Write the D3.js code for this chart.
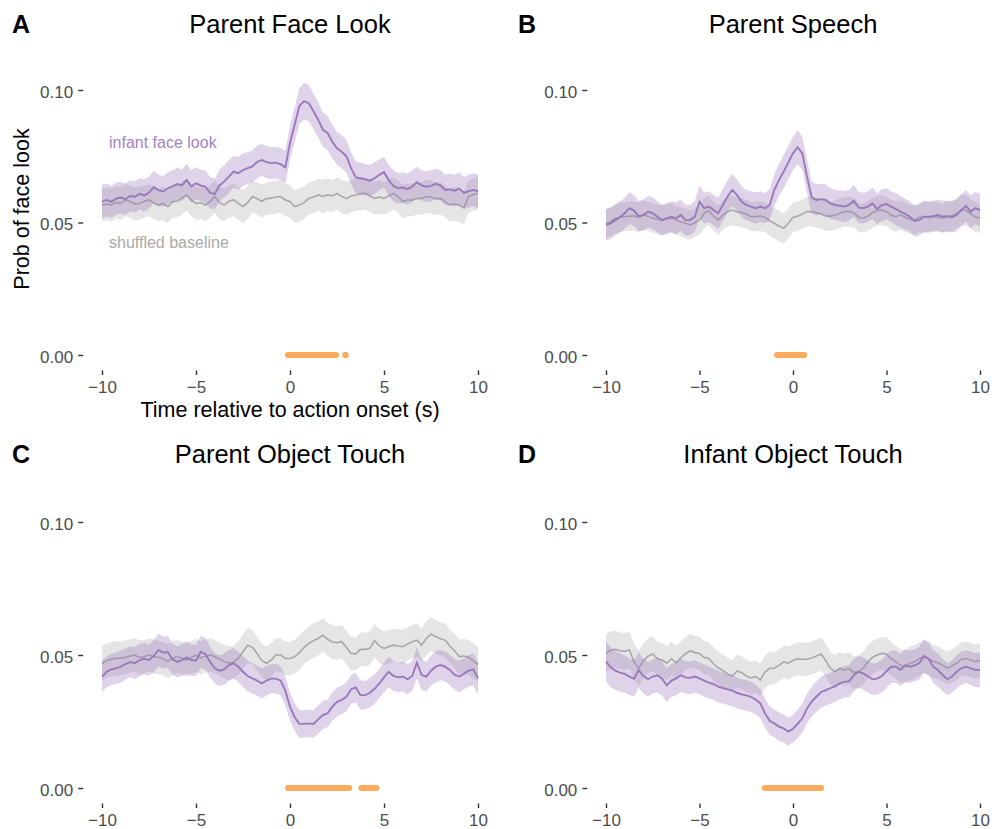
<!DOCTYPE html>
<html>
<head>
  <meta charset="utf-8">
  <style>
    body { margin: 0; background: #fff; }
    svg text { font-family: "Liberation Sans", Arial, Helvetica, sans-serif; }
    .axis path.domain { display: none; }
    .axis line { stroke: #333; stroke-width: 1.4px; }
    .axis text { fill: #4d4d4d; font-size: 17px; }
  </style>
</head>
<body>
<script src="https://cdn.jsdelivr.net/npm/d3@7"></script>
<script>
// time grid (s relative to onset), one value every 0.25 s
var times = d3.range(-40, 41).map(function (k) { return k / 4; });

var panelLetters = ["A", "B", "C", "D"];
var panelTitles = ["Parent Face Look", "Parent Speech", "Parent Object Touch", "Infant Object Touch"];
var xTicks = [-10, -5, 0, 5, 10];
var yTicks = [0, 0.05, 0.10];

// A - Parent Face Look
var faceA = [0.0579,0.0585,0.0578,0.0590,0.0594,0.0588,0.0600,0.0597,0.0608,0.0602,
  0.0613,0.0633,0.0622,0.0617,0.0629,0.0636,0.0645,0.0640,0.0660,0.0636,
  0.0648,0.0640,0.0635,0.0612,0.0608,0.0640,0.0655,0.0673,0.0692,0.0686,
  0.0698,0.0705,0.0712,0.0728,0.0736,0.0728,0.0724,0.0726,0.0720,0.0708,
  0.0800,0.0870,0.0940,0.0958,0.0950,0.0920,0.0888,0.0850,0.0838,0.0805,
  0.0780,0.0767,0.0750,0.0705,0.0670,0.0667,0.0663,0.0658,0.0667,0.0680,
  0.0690,0.0660,0.0638,0.0629,0.0632,0.0626,0.0636,0.0652,0.0640,0.0635,
  0.0638,0.0646,0.0640,0.0623,0.0625,0.0620,0.0628,0.0612,0.0618,0.0623,0.0618];
var faceSeA = [0.0063,0.0062,0.0060,0.0061,0.0059,0.0060,0.0058,0.0060,0.0059,0.0061,
  0.0060,0.0062,0.0059,0.0058,0.0060,0.0061,0.0062,0.0060,0.0063,0.0061,
  0.0060,0.0059,0.0061,0.0060,0.0058,0.0060,0.0061,0.0062,0.0060,0.0061,
  0.0062,0.0060,0.0061,0.0062,0.0060,0.0061,0.0060,0.0059,0.0061,0.0062,
  0.0064,0.0066,0.0068,0.0069,0.0068,0.0067,0.0066,0.0065,0.0064,0.0063,
  0.0062,0.0062,0.0061,0.0060,0.0060,0.0059,0.0058,0.0059,0.0060,0.0058,
  0.0057,0.0058,0.0059,0.0057,0.0058,0.0059,0.0060,0.0058,0.0057,0.0058,
  0.0059,0.0058,0.0057,0.0058,0.0059,0.0060,0.0061,0.0060,0.0062,0.0063,0.0064];
var baseA = [0.0566,0.0570,0.0566,0.0575,0.0572,0.0585,0.0579,0.0570,0.0572,0.0580,
  0.0585,0.0575,0.0566,0.0572,0.0560,0.0578,0.0580,0.0592,0.0604,0.0585,
  0.0572,0.0575,0.0566,0.0580,0.0598,0.0575,0.0566,0.0580,0.0585,0.0572,
  0.0560,0.0575,0.0598,0.0590,0.0580,0.0590,0.0592,0.0596,0.0598,0.0585,
  0.0579,0.0560,0.0566,0.0575,0.0591,0.0596,0.0604,0.0598,0.0604,0.0600,
  0.0610,0.0598,0.0591,0.0600,0.0604,0.0608,0.0610,0.0600,0.0591,0.0596,
  0.0591,0.0600,0.0610,0.0598,0.0579,0.0585,0.0585,0.0590,0.0591,0.0598,
  0.0596,0.0590,0.0591,0.0580,0.0566,0.0570,0.0566,0.0555,0.0598,0.0605,0.0610];
var baseSeA = [0.0062,0.0061,0.0063,0.0060,0.0062,0.0061,0.0060,0.0062,0.0063,0.0061,
  0.0060,0.0062,0.0061,0.0063,0.0062,0.0060,0.0061,0.0062,0.0060,0.0061,
  0.0063,0.0062,0.0061,0.0060,0.0062,0.0063,0.0061,0.0060,0.0062,0.0061,
  0.0063,0.0062,0.0060,0.0061,0.0062,0.0061,0.0063,0.0062,0.0061,0.0060,
  0.0062,0.0063,0.0062,0.0061,0.0060,0.0062,0.0061,0.0063,0.0062,0.0060,
  0.0061,0.0062,0.0063,0.0061,0.0060,0.0062,0.0061,0.0060,0.0062,0.0063,
  0.0061,0.0062,0.0060,0.0061,0.0063,0.0062,0.0061,0.0060,0.0062,0.0061,
  0.0063,0.0062,0.0061,0.0060,0.0062,0.0063,0.0064,0.0062,0.0061,0.0060,0.0062];
var sigA = [[-0.1, 2.45], [2.95, 2.95]];

// B - Parent Speech
var faceB = [0.0491,0.0497,0.0509,0.0520,0.0535,0.0554,0.0545,0.0524,0.0528,0.0541,
  0.0535,0.0522,0.0509,0.0516,0.0522,0.0516,0.0528,0.0509,0.0509,0.0522,
  0.0579,0.0554,0.0560,0.0547,0.0535,0.0566,0.0598,0.0623,0.0604,0.0579,
  0.0566,0.0560,0.0554,0.0560,0.0554,0.0566,0.0623,0.0660,0.0692,0.0727,
  0.0761,0.0784,0.0761,0.0673,0.0595,0.0585,0.0588,0.0585,0.0572,0.0566,
  0.0563,0.0560,0.0566,0.0582,0.0557,0.0554,0.0560,0.0572,0.0551,0.0566,
  0.0570,0.0560,0.0551,0.0541,0.0532,0.0522,0.0506,0.0509,0.0522,0.0520,
  0.0524,0.0528,0.0522,0.0524,0.0520,0.0528,0.0547,0.0563,0.0541,0.0554,0.0547];
var faceSeB = [0.0058,0.0060,0.0057,0.0059,0.0058,0.0060,0.0059,0.0057,0.0058,0.0060,
  0.0059,0.0058,0.0057,0.0059,0.0058,0.0060,0.0059,0.0058,0.0057,0.0059,
  0.0060,0.0059,0.0058,0.0057,0.0059,0.0060,0.0061,0.0060,0.0059,0.0058,
  0.0057,0.0058,0.0059,0.0058,0.0057,0.0058,0.0060,0.0061,0.0062,0.0063,
  0.0063,0.0064,0.0063,0.0062,0.0060,0.0059,0.0058,0.0059,0.0058,0.0057,
  0.0058,0.0059,0.0058,0.0060,0.0059,0.0058,0.0057,0.0059,0.0058,0.0060,
  0.0059,0.0058,0.0060,0.0059,0.0058,0.0057,0.0059,0.0058,0.0060,0.0059,
  0.0058,0.0059,0.0060,0.0058,0.0059,0.0060,0.0061,0.0060,0.0062,0.0061,0.0062];
var baseB = [0.0497,0.0503,0.0516,0.0520,0.0522,0.0524,0.0524,0.0520,0.0528,0.0524,
  0.0516,0.0512,0.0509,0.0514,0.0516,0.0509,0.0503,0.0497,0.0491,0.0499,
  0.0509,0.0535,0.0545,0.0524,0.0509,0.0528,0.0541,0.0547,0.0541,0.0537,
  0.0532,0.0522,0.0522,0.0524,0.0520,0.0506,0.0497,0.0487,0.0478,0.0497,
  0.0520,0.0524,0.0532,0.0541,0.0541,0.0537,0.0532,0.0524,0.0524,0.0528,
  0.0535,0.0541,0.0541,0.0537,0.0520,0.0516,0.0524,0.0537,0.0545,0.0547,
  0.0541,0.0528,0.0522,0.0528,0.0520,0.0512,0.0509,0.0520,0.0522,0.0522,
  0.0522,0.0520,0.0516,0.0522,0.0526,0.0535,0.0547,0.0547,0.0532,0.0522,0.0516];
var baseSeB = [0.0056,0.0055,0.0057,0.0056,0.0054,0.0056,0.0055,0.0057,0.0056,0.0055,
  0.0054,0.0056,0.0057,0.0055,0.0056,0.0054,0.0055,0.0057,0.0056,0.0055,
  0.0056,0.0057,0.0055,0.0054,0.0056,0.0055,0.0057,0.0056,0.0055,0.0056,
  0.0054,0.0055,0.0056,0.0057,0.0055,0.0056,0.0057,0.0058,0.0057,0.0056,
  0.0055,0.0056,0.0054,0.0055,0.0056,0.0057,0.0055,0.0056,0.0054,0.0055,
  0.0056,0.0055,0.0057,0.0056,0.0055,0.0054,0.0056,0.0057,0.0055,0.0056,
  0.0055,0.0057,0.0056,0.0055,0.0056,0.0054,0.0055,0.0056,0.0057,0.0055,
  0.0056,0.0055,0.0054,0.0056,0.0057,0.0056,0.0058,0.0057,0.0056,0.0057,0.0056];
var sigB = [[-0.85, 0.6]];

// C - Parent Object Touch
var faceC = [0.0419,0.0437,0.0446,0.0450,0.0456,0.0466,0.0474,0.0469,0.0481,0.0486,
  0.0481,0.0496,0.0519,0.0509,0.0511,0.0484,0.0474,0.0481,0.0491,0.0481,
  0.0479,0.0512,0.0504,0.0474,0.0450,0.0441,0.0446,0.0462,0.0469,0.0456,
  0.0437,0.0421,0.0412,0.0404,0.0393,0.0404,0.0411,0.0411,0.0404,0.0366,
  0.0306,0.0266,0.0241,0.0241,0.0243,0.0241,0.0258,0.0274,0.0281,0.0306,
  0.0324,0.0331,0.0343,0.0371,0.0378,0.0349,0.0349,0.0358,0.0373,0.0393,
  0.0416,0.0437,0.0421,0.0416,0.0419,0.0409,0.0421,0.0471,0.0425,0.0419,
  0.0441,0.0456,0.0462,0.0456,0.0444,0.0426,0.0419,0.0429,0.0441,0.0446,0.0412];
var faceSeC = [0.0058,0.0057,0.0059,0.0058,0.0060,0.0059,0.0058,0.0060,0.0061,0.0059,
  0.0058,0.0060,0.0062,0.0061,0.0060,0.0059,0.0058,0.0060,0.0061,0.0059,
  0.0058,0.0060,0.0059,0.0058,0.0057,0.0058,0.0059,0.0058,0.0057,0.0056,
  0.0057,0.0058,0.0057,0.0056,0.0057,0.0056,0.0055,0.0056,0.0055,0.0054,
  0.0053,0.0052,0.0052,0.0051,0.0052,0.0051,0.0052,0.0053,0.0052,0.0053,
  0.0054,0.0053,0.0054,0.0055,0.0056,0.0055,0.0054,0.0055,0.0056,0.0055,
  0.0056,0.0057,0.0056,0.0055,0.0056,0.0057,0.0056,0.0058,0.0057,0.0056,
  0.0057,0.0058,0.0057,0.0056,0.0057,0.0058,0.0059,0.0058,0.0059,0.0060,0.0061];
var baseC = [0.0469,0.0479,0.0484,0.0488,0.0488,0.0491,0.0496,0.0500,0.0491,0.0494,
  0.0500,0.0494,0.0491,0.0486,0.0476,0.0488,0.0494,0.0488,0.0481,0.0491,
  0.0499,0.0489,0.0496,0.0500,0.0494,0.0484,0.0476,0.0469,0.0474,0.0488,
  0.0512,0.0537,0.0529,0.0506,0.0479,0.0469,0.0481,0.0500,0.0500,0.0488,
  0.0486,0.0494,0.0509,0.0529,0.0544,0.0554,0.0562,0.0574,0.0559,0.0549,
  0.0546,0.0550,0.0529,0.0506,0.0504,0.0521,0.0521,0.0525,0.0554,0.0534,
  0.0525,0.0531,0.0537,0.0534,0.0531,0.0541,0.0550,0.0556,0.0537,0.0562,
  0.0579,0.0569,0.0561,0.0556,0.0534,0.0516,0.0494,0.0496,0.0491,0.0479,0.0464];
var baseSeC = [0.0066,0.0065,0.0064,0.0065,0.0063,0.0064,0.0062,0.0063,0.0064,0.0062,
  0.0063,0.0064,0.0063,0.0062,0.0064,0.0063,0.0062,0.0061,0.0063,0.0062,
  0.0064,0.0063,0.0062,0.0064,0.0063,0.0062,0.0063,0.0064,0.0062,0.0063,
  0.0064,0.0065,0.0064,0.0063,0.0062,0.0063,0.0064,0.0062,0.0063,0.0064,
  0.0063,0.0062,0.0064,0.0063,0.0064,0.0065,0.0064,0.0063,0.0062,0.0064,
  0.0063,0.0062,0.0063,0.0064,0.0062,0.0063,0.0064,0.0063,0.0062,0.0064,
  0.0063,0.0064,0.0062,0.0063,0.0064,0.0063,0.0062,0.0064,0.0063,0.0065,
  0.0064,0.0063,0.0062,0.0064,0.0063,0.0064,0.0065,0.0064,0.0065,0.0066,0.0065];
var sigC = [[-0.1, 3.15], [3.8, 4.6]];

// D - Infant Object Touch
var faceD = [0.0475,0.0454,0.0441,0.0434,0.0429,0.0419,0.0411,0.0444,0.0421,0.0409,
  0.0419,0.0424,0.0411,0.0386,0.0404,0.0412,0.0424,0.0416,0.0414,0.0419,
  0.0412,0.0404,0.0396,0.0391,0.0381,0.0376,0.0371,0.0366,0.0358,0.0352,
  0.0348,0.0343,0.0333,0.0318,0.0281,0.0253,0.0243,0.0231,0.0224,0.0212,
  0.0223,0.0241,0.0262,0.0299,0.0325,0.0343,0.0361,0.0368,0.0375,0.0383,
  0.0393,0.0400,0.0401,0.0424,0.0437,0.0431,0.0420,0.0409,0.0411,0.0421,
  0.0439,0.0456,0.0456,0.0444,0.0461,0.0456,0.0461,0.0469,0.0496,0.0486,
  0.0456,0.0444,0.0425,0.0409,0.0419,0.0437,0.0450,0.0456,0.0450,0.0444,0.0444];
var faceSeD = [0.0076,0.0075,0.0073,0.0072,0.0070,0.0069,0.0068,0.0067,0.0066,0.0065,
  0.0064,0.0065,0.0064,0.0063,0.0062,0.0063,0.0062,0.0061,0.0062,0.0061,
  0.0060,0.0061,0.0060,0.0059,0.0060,0.0059,0.0058,0.0059,0.0058,0.0057,
  0.0058,0.0057,0.0056,0.0055,0.0054,0.0053,0.0052,0.0053,0.0052,0.0053,
  0.0052,0.0053,0.0054,0.0055,0.0056,0.0057,0.0058,0.0059,0.0058,0.0059,
  0.0060,0.0059,0.0060,0.0061,0.0060,0.0061,0.0060,0.0059,0.0060,0.0061,
  0.0062,0.0061,0.0060,0.0061,0.0062,0.0061,0.0060,0.0062,0.0063,0.0062,
  0.0061,0.0062,0.0061,0.0060,0.0061,0.0062,0.0063,0.0062,0.0063,0.0064,0.0064];
var baseD = [0.0506,0.0519,0.0521,0.0516,0.0513,0.0519,0.0475,0.0450,0.0479,0.0496,
  0.0504,0.0486,0.0481,0.0469,0.0486,0.0471,0.0489,0.0504,0.0516,0.0509,
  0.0506,0.0491,0.0487,0.0466,0.0452,0.0441,0.0429,0.0421,0.0439,0.0434,
  0.0421,0.0414,0.0419,0.0406,0.0436,0.0450,0.0450,0.0461,0.0474,0.0469,
  0.0479,0.0486,0.0484,0.0484,0.0489,0.0496,0.0504,0.0479,0.0450,0.0437,
  0.0450,0.0444,0.0449,0.0434,0.0437,0.0450,0.0474,0.0491,0.0500,0.0506,
  0.0504,0.0486,0.0474,0.0461,0.0456,0.0469,0.0475,0.0486,0.0494,0.0486,
  0.0476,0.0471,0.0461,0.0451,0.0459,0.0469,0.0484,0.0487,0.0481,0.0475,0.0481];
var baseSeD = [0.0072,0.0071,0.0070,0.0069,0.0070,0.0068,0.0067,0.0066,0.0065,0.0066,
  0.0065,0.0064,0.0065,0.0064,0.0063,0.0064,0.0063,0.0062,0.0063,0.0062,
  0.0063,0.0062,0.0061,0.0062,0.0061,0.0062,0.0061,0.0060,0.0061,0.0062,
  0.0061,0.0060,0.0061,0.0062,0.0061,0.0062,0.0061,0.0060,0.0061,0.0062,
  0.0061,0.0062,0.0063,0.0062,0.0061,0.0062,0.0063,0.0062,0.0061,0.0062,
  0.0061,0.0060,0.0061,0.0062,0.0061,0.0062,0.0063,0.0062,0.0061,0.0062,
  0.0063,0.0062,0.0061,0.0062,0.0061,0.0062,0.0063,0.0062,0.0061,0.0062,
  0.0063,0.0062,0.0061,0.0062,0.0063,0.0064,0.0063,0.0064,0.0065,0.0064,0.0065];
var sigD = [[-1.5, 1.5]];

var panels = [
  { face: faceA, faceSe: faceSeA, base: baseA, baseSe: baseSeA, sig: sigA },
  { face: faceB, faceSe: faceSeB, base: baseB, baseSe: baseSeB, sig: sigB },
  { face: faceC, faceSe: faceSeC, base: baseC, baseSe: baseSeC, sig: sigC },
  { face: faceD, faceSe: faceSeD, base: baseD, baseSe: baseSeD, sig: sigD }
];

// panel boxes in pixels
var layout = [
  { left: 83.2, right: 496.8, y0: 355, y10: 90, bottom: 370.5, letterX: 12, baseY: 33 },
  { left: 587.3, right: 998.7, y0: 355, y10: 90, bottom: 370.5, letterX: 518, baseY: 33 },
  { left: 83.2, right: 496.8, y0: 788, y10: 522, bottom: 803.5, letterX: 12, baseY: 463 },
  { left: 587.3, right: 998.7, y0: 788, y10: 522, bottom: 803.5, letterX: 518, baseY: 463 }
];

var purple = "#9b78bc", grey = "#a8a8a8", orange = "#fdab5e";

var svg = d3.select("body").append("svg")
  .attr("width", 992).attr("height", 829);

panels.forEach(function (p, k) {
  var L = layout[k];
  var x = d3.scaleLinear().domain([-11, 11]).range([L.left, L.right]);
  var y = d3.scaleLinear().domain([0, 0.1]).range([L.y0, L.y10]);
  var g = svg.append("g");

  function rows(mean, se) {
    return mean.map(function (v, i) { return { t: times[i], v: v, se: se[i] }; });
  }
  var area = d3.area()
    .x(function (d) { return x(d.t); })
    .y0(function (d) { return y(d.v - d.se); })
    .y1(function (d) { return y(d.v + d.se); });
  var line = d3.line()
    .x(function (d) { return x(d.t); })
    .y(function (d) { return y(d.v); });

  var base = rows(p.base, p.baseSe), face = rows(p.face, p.faceSe);

  g.append("path").attr("d", area(base)).attr("fill", grey).attr("fill-opacity", 0.3);
  g.append("path").attr("d", line(base)).attr("fill", "none").attr("stroke", grey).attr("stroke-width", 1.6);
  g.append("path").attr("d", area(face)).attr("fill", purple).attr("fill-opacity", 0.33);
  g.append("path").attr("d", line(face)).attr("fill", "none").attr("stroke", purple).attr("stroke-width", 1.9);

  // significant time windows
  p.sig.forEach(function (s) {
    if (s[0] === s[1]) {
      g.append("circle").attr("cx", x(s[0])).attr("cy", y(0)).attr("r", 3.2).attr("fill", orange);
    } else {
      g.append("line").attr("x1", x(s[0])).attr("x2", x(s[1]))
        .attr("y1", y(0)).attr("y2", y(0))
        .attr("stroke", orange).attr("stroke-width", 6.2).attr("stroke-linecap", "round");
    }
  });

  g.append("g").attr("class", "axis")
    .attr("transform", "translate(" + L.left + ",0)")
    .call(d3.axisLeft(y).tickValues(yTicks).tickFormat(d3.format(".2f")).tickSize(5).tickPadding(5))
    .selectAll("text").attr("dy", "0.42em");

  g.append("g").attr("class", "axis")
    .attr("transform", "translate(0," + L.bottom + ")")
    .call(d3.axisBottom(x).tickValues(xTicks).tickSize(4.5).tickPadding(6));

  var cx = (L.left + L.right) / 2;
  svg.append("text").attr("x", L.letterX).attr("y", L.baseY)
    .style("font-size", "25px").style("font-weight", "bold").text(panelLetters[k]);
  svg.append("text").attr("x", cx).attr("y", L.baseY).attr("text-anchor", "middle")
    .style("font-size", "25.5px").text(panelTitles[k]);

  if (k === 0) {
    svg.append("text").attr("x", cx).attr("y", 417).attr("text-anchor", "middle")
      .style("font-size", "21.5px").text("Time relative to action onset (s)");
    svg.append("text").attr("transform", "translate(29,209) rotate(-90)")
      .attr("text-anchor", "middle").style("font-size", "21.5px").text("Prob of face look");
    svg.append("text").attr("x", 109).attr("y", 148).attr("fill", "#a283c4")
      .style("font-size", "16px").text("infant face look");
    svg.append("text").attr("x", 109).attr("y", 248).attr("fill", "#a9a9a9")
      .style("font-size", "16px").text("shuffled baseline");
  }
});
</script>
</body>
</html>
